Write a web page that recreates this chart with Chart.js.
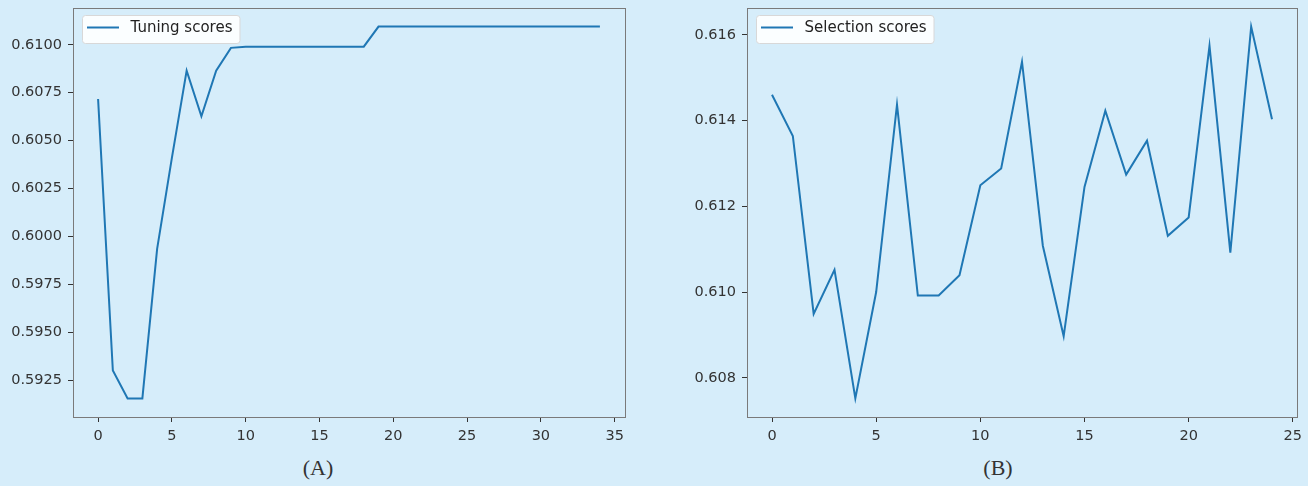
<!DOCTYPE html>
<html>
<head>
<meta charset="utf-8">
<script src="https://cdn.jsdelivr.net/npm/chart.js@4.4.1/dist/chart.umd.min.js"></script>
<style>
  html, body {
    margin: 0;
    padding: 0;
    background: #d6edfa;
    width: 1308px;
    height: 486px;
    overflow: hidden;
  }
  .panel {
    position: absolute;
    top: 0;
  }
  .caption {
    position: absolute;
    top: 455px;
    width: 100px;
    text-align: center;
    font-family: "Liberation Serif", "DejaVu Serif", serif;
    font-size: 22px;
    color: #333;
  }
</style>
</head>
<body>

<canvas id="tuningChart" class="panel" width="640" height="450" style="left:0px"></canvas>
<canvas id="selectionChart" class="panel" width="648" height="450" style="left:660px"></canvas>
<div class="caption" style="left:268px">(A)</div>
<div class="caption" style="left:948px">(B)</div>

<script>
// ===== DATA =====
const tuningScores = [
  0.60717, 0.59300, 0.59154, 0.59154, 0.59935, 0.60410, 0.60865, 0.60627, 0.60865, 0.60984,
  0.60990, 0.60990, 0.60990, 0.60990, 0.60990, 0.60990, 0.60990, 0.60990, 0.60990,
  0.61095, 0.61095, 0.61095, 0.61095, 0.61095, 0.61095, 0.61095, 0.61095,
  0.61095, 0.61095, 0.61095, 0.61095, 0.61095, 0.61095, 0.61095, 0.61095
];

const selectionScores = [
  0.61460, 0.61364, 0.60949, 0.61052, 0.60752, 0.61000, 0.61437, 0.60992, 0.60992, 0.61039,
  0.61249, 0.61288, 0.61537, 0.61108, 0.60897, 0.61245, 0.61423, 0.61274, 0.61353, 0.61131,
  0.61174, 0.61574, 0.61092, 0.61619, 0.61403
];

const tuningXTicks = [0, 5, 10, 15, 20, 25, 30, 35];
const tuningYTicks = [0.5925, 0.5950, 0.5975, 0.6000, 0.6025, 0.6050, 0.6075, 0.6100];

const selectionXTicks = [0, 5, 10, 15, 20, 25];
const selectionYTicks = [0.608, 0.610, 0.612, 0.614, 0.616];

const LINE_COLOR = "#1f77b4";
const TICK_FONT = { family: "DejaVu Sans", size: 14.5 };

/* =========================
   PLUGINS: frame + legend box
========================= */
const framePlugin = {
  id: "frame",
  afterDraw(chart) {
    const { ctx, chartArea: a } = chart;
    ctx.save();
    ctx.strokeStyle = "#7a7a7a";
    ctx.lineWidth = 1;
    ctx.strokeRect(a.left + 0.5, a.top + 0.5, a.right - a.left, a.bottom - a.top);
    ctx.restore();
  }
};

const boxLegendPlugin = {
  id: "boxLegend",
  afterDraw(chart) {
    const { ctx, chartArea: a } = chart;
    const label = chart.data.datasets[0].label;
    ctx.save();
    ctx.font = "15px 'DejaVu Sans'";
    const textW = ctx.measureText(label).width;
    const x = a.left + 9;
    const y = a.top + 7;
    const w = 5 + 32 + 11.5 + textW + 7;
    const h = 28;

    ctx.beginPath();
    ctx.roundRect(x + 0.5, y + 0.5, w, h, 3);
    ctx.fillStyle = "rgba(255,255,255,0.9)";
    ctx.fill();
    ctx.strokeStyle = "#d8d8d8";
    ctx.lineWidth = 1;
    ctx.stroke();

    ctx.beginPath();
    ctx.moveTo(x + 5, y + 12.5);
    ctx.lineTo(x + 37, y + 12.5);
    ctx.strokeStyle = LINE_COLOR;
    ctx.lineWidth = 2;
    ctx.stroke();

    ctx.fillStyle = "#222";
    ctx.textBaseline = "middle";
    ctx.fillText(label, x + 48.5, y + 13);
    ctx.restore();
  }
};

/* =========================
   CHART BUILDER
========================= */
function buildScoreChart(canvasId, label, scores, xTicks, yTicks, decimals, yAxisWidth, padRight) {
  const points = scores.map((v, i) => ({ x: i, y: v }));

  // matplotlib style 5% margins
  const n = scores.length - 1;
  const yMin = Math.min(...scores);
  const yMax = Math.max(...scores);
  const yPad = (yMax - yMin) * 0.05;

  new Chart(document.getElementById(canvasId).getContext("2d"), {
    type: "line",
    data: {
      datasets: [
        {
          label: label,
          data: points,
          borderColor: LINE_COLOR,
          borderWidth: 2,
          pointRadius: 0,
          tension: 0,
          fill: false
        }
      ]
    },
    options: {
      responsive: false,
      animation: false,
      devicePixelRatio: 1,
      layout: {
        padding: { top: 8, right: padRight, bottom: 0, left: 0 }
      },
      plugins: {
        legend: { display: false },
        tooltip: { enabled: false }
      },
      scales: {
        x: {
          type: "linear",
          min: -n * 0.05,
          max: n * 1.05,
          afterBuildTicks: (scale) => {
            scale.ticks = xTicks.map(v => ({ value: v }));
          },
          afterFit: (scale) => {
            scale.height = 33;
            scale.paddingLeft = 0;
            scale.paddingRight = 0;
          },
          grid: {
            drawOnChartArea: false,
            drawTicks: true,
            tickLength: 5,
            color: "#333"
          },
          border: { display: false },
          ticks: {
            font: TICK_FONT,
            color: "#333",
            padding: 6,
            maxRotation: 0,
            callback: (v) => String(v)
          }
        },
        y: {
          type: "linear",
          min: yMin - yPad,
          max: yMax + yPad,
          afterBuildTicks: (scale) => {
            scale.ticks = yTicks.map(v => ({ value: v }));
          },
          afterFit: (scale) => {
            scale.width = yAxisWidth;
            scale.paddingTop = 0;
            scale.paddingBottom = 0;
          },
          grid: {
            drawOnChartArea: false,
            drawTicks: true,
            tickLength: 5,
            color: "#333"
          },
          border: { display: false },
          ticks: {
            font: TICK_FONT,
            color: "#333",
            padding: 6,
            callback: (v) => Number(v).toFixed(decimals)
          }
        }
      }
    },
    plugins: [framePlugin, boxLegendPlugin]
  });
}

buildScoreChart("tuningChart", "Tuning scores", tuningScores, tuningXTicks, tuningYTicks, 4, 73, 15);
buildScoreChart("selectionChart", "Selection scores", selectionScores, selectionXTicks, selectionYTicks, 3, 87, 11);
</script>
</body>
</html>
